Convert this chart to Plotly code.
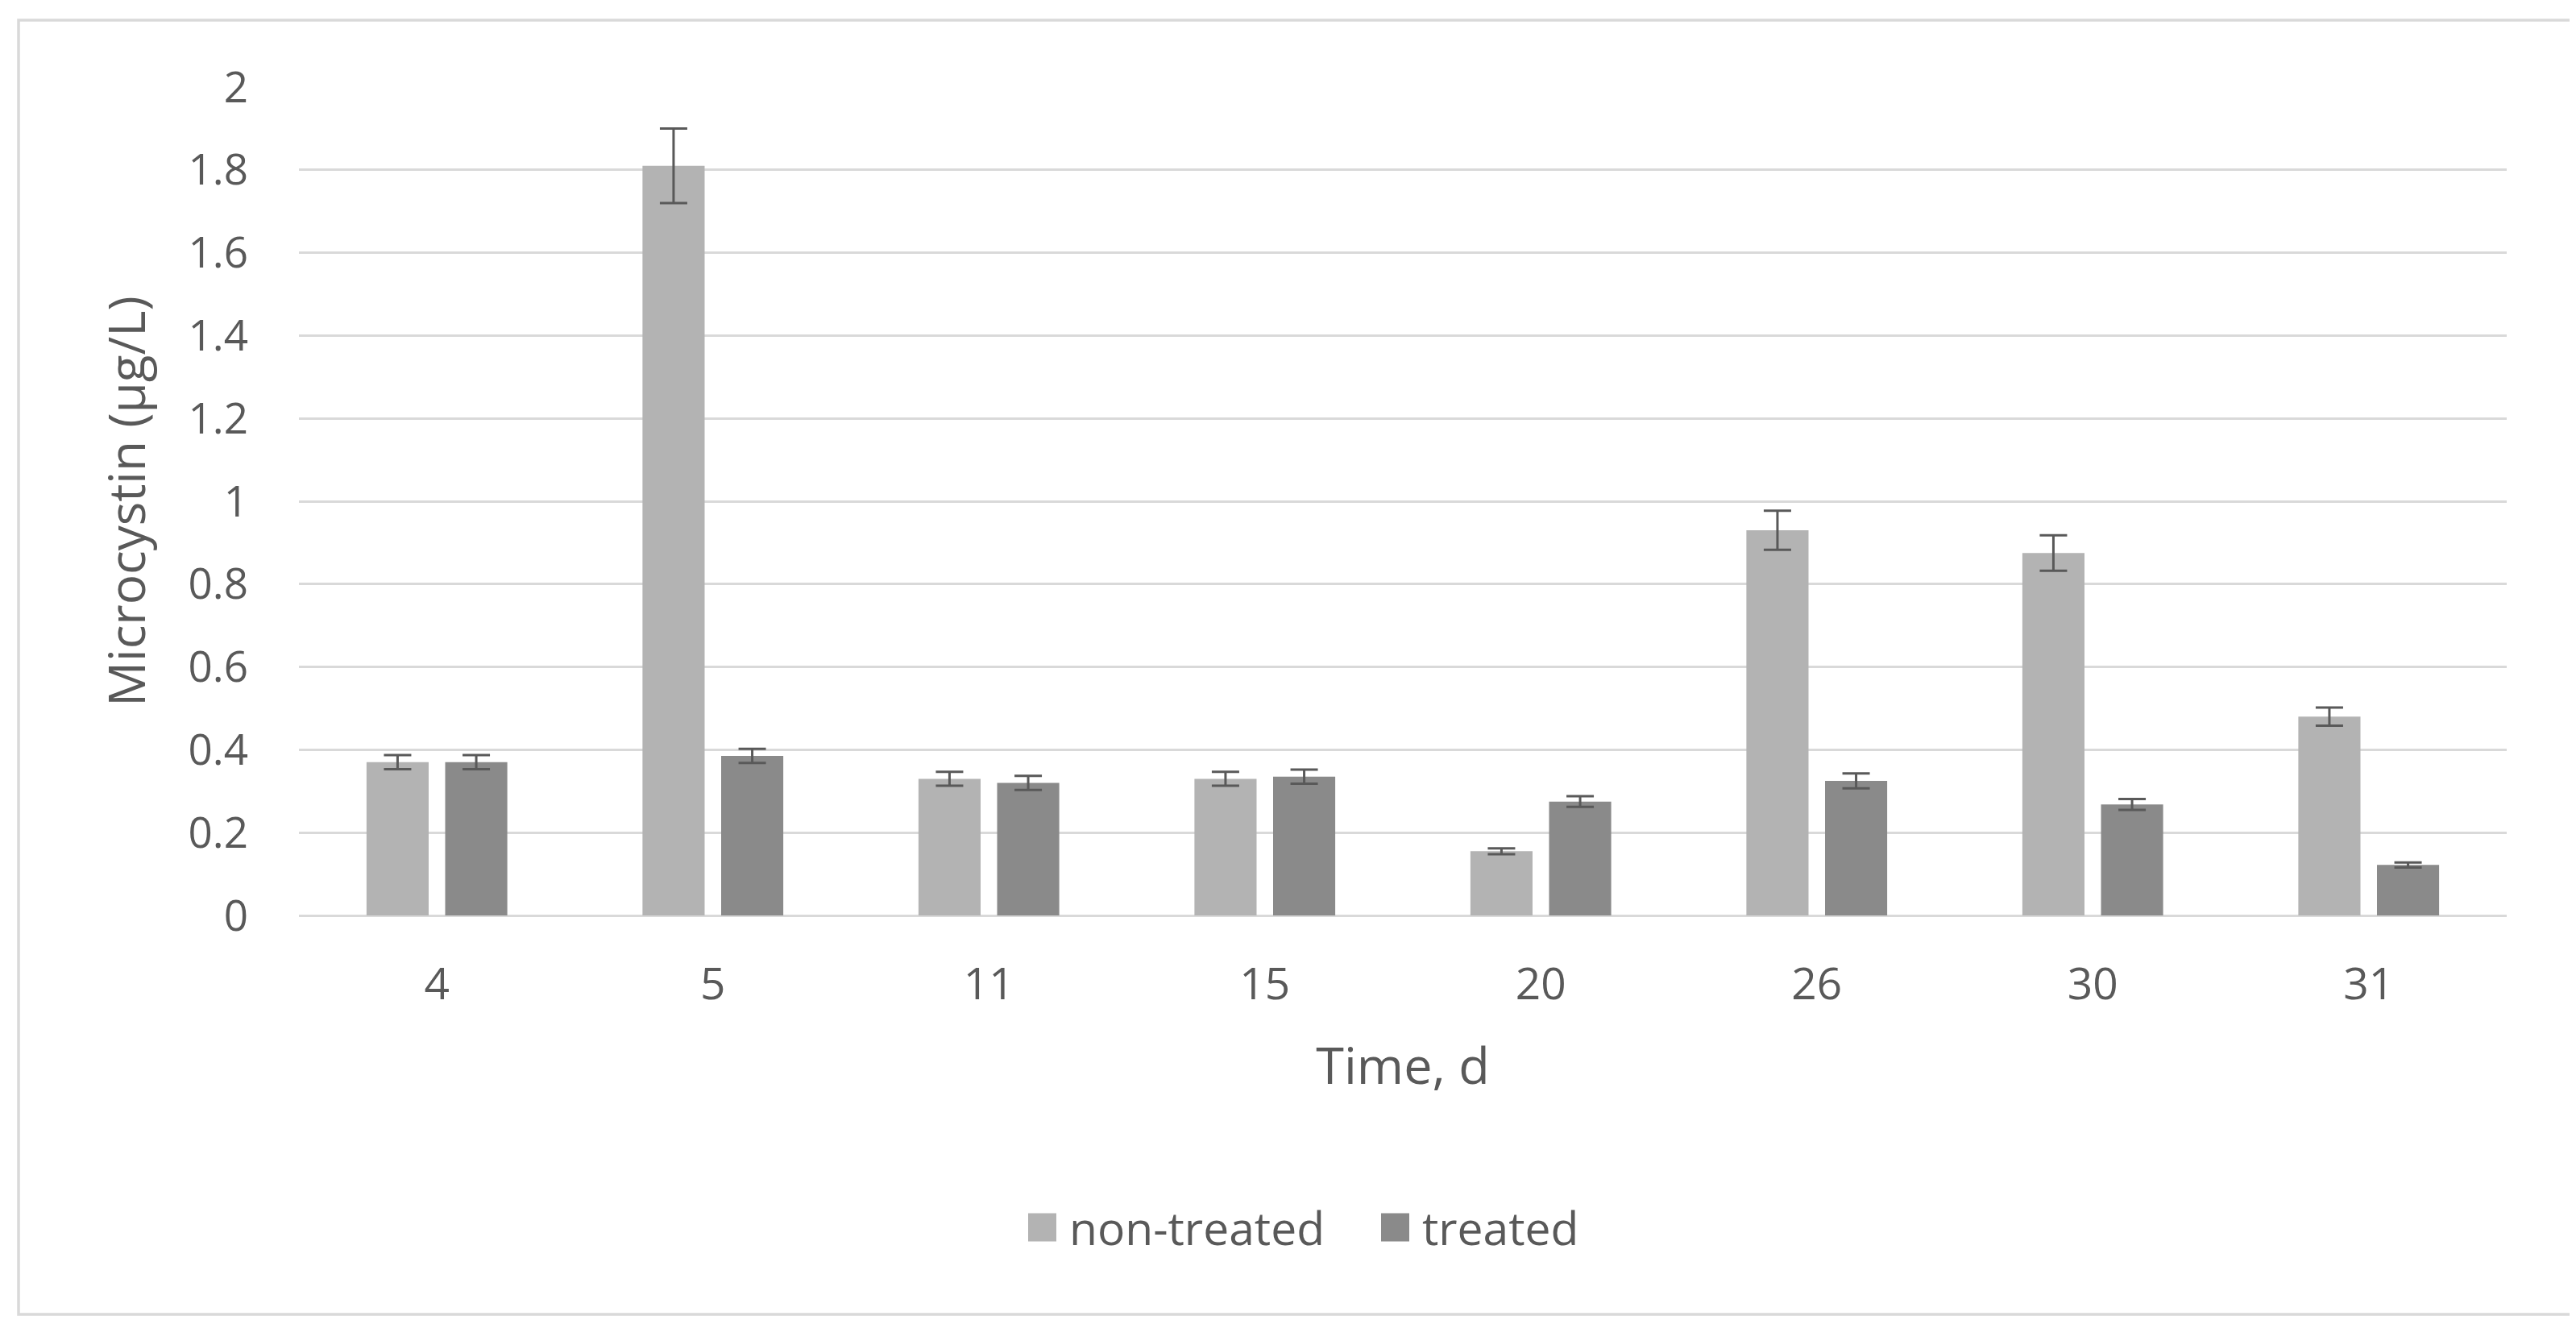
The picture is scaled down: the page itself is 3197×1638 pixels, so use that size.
import plotly.graph_objects as go

# ---- data ----
days = ["4", "5", "11", "15", "20", "26", "30", "31"]
non_treated = [0.37, 1.81, 0.33, 0.33, 0.155, 0.93, 0.875, 0.48]
non_treated_err = [0.017, 0.09, 0.017, 0.017, 0.007, 0.047, 0.043, 0.022]
treated = [0.37, 0.385, 0.32, 0.335, 0.275, 0.325, 0.268, 0.122]
treated_err = [0.017, 0.017, 0.017, 0.017, 0.013, 0.018, 0.013, 0.006]
y_tickvals = [0, 0.2, 0.4, 0.6, 0.8, 1.0, 1.2, 1.4, 1.6, 1.8, 2.0]
y_ticktext = ["0", "0.2", "0.4", "0.6", "0.8", "1", "1.2", "1.4", "1.6", "1.8", "2"]
series_names = ["non-treated", "treated"]
series_colors = ["#b3b3b3", "#8a8a8a"]

# ---- style ----
FONT = "Open Sans, Noto Sans, DejaVu Sans, sans-serif"
TEXT = "#595959"
GRID = "#d9d9d9"
ERR = "#595959"
W, H = 3197, 1638
L, R, T, B = 363, 94, 100, 510

fig = go.Figure()
for name, vals, errs, col in [
    (series_names[0], non_treated, non_treated_err, series_colors[0]),
    (series_names[1], treated, treated_err, series_colors[1]),
]:
    fig.add_trace(go.Bar(
        x=days, y=vals, name=name,
        marker=dict(color=col, line=dict(width=0)),
        error_y=dict(type="data", array=errs, visible=True,
                     color=ERR, thickness=3, width=17),
        showlegend=False,
    ))

# helpers: pixel -> paper coordinates
pw, ph = W - L - R, H - T - B
def px_x(p):
    return (p - L) / pw
def px_y(p):
    return (H - B - p) / ph

# outer chart border
fig.add_shape(type="rect", xref="paper", yref="paper",
              x0=px_x(15), x1=px_x(3184), y0=px_y(1623), y1=px_y(17),
              line=dict(color=GRID, width=3.5), fillcolor="rgba(0,0,0,0)",
              layer="below")

# legend (square swatches + labels, Excel style)
legend_y = 1515
sw = 35
legend_items = [(1268, series_names[0], series_colors[0]),
                (1706, series_names[1], series_colors[1])]
for x0, name, col in legend_items:
    fig.add_shape(type="rect", xref="paper", yref="paper",
                  x0=px_x(x0), x1=px_x(x0 + sw),
                  y0=px_y(legend_y + sw / 2), y1=px_y(legend_y - sw / 2),
                  line=dict(width=0), fillcolor=col)
    fig.add_annotation(xref="paper", yref="paper",
                       x=px_x(x0 + sw + 14), y=px_y(legend_y),
                       xanchor="left", yanchor="middle", showarrow=False,
                       text=name, font=dict(size=57, color=TEXT, family=FONT))

fig.update_layout(
    width=W, height=H,
    margin=dict(l=L, r=R, t=T, b=B, autoexpand=False),
    paper_bgcolor="white", plot_bgcolor="white",
    font=dict(family=FONT, color=TEXT, size=55),
    barmode="group", bargap=0.43, bargroupgap=0.21,
    showlegend=False,
    xaxis=dict(
        type="category",
        showgrid=False, showline=False, zeroline=False, ticks="",
        tickfont=dict(size=55, color=TEXT, family=FONT),
        ticklabelstandoff=48,
        title=dict(text="Time, d", font=dict(size=63, color=TEXT, family=FONT),
                   standoff=45),
    ),
    yaxis=dict(
        range=[0, 2],
        tickvals=y_tickvals, ticktext=y_ticktext,
        showgrid=True, gridcolor=GRID, gridwidth=3,
        zeroline=True, zerolinecolor=GRID, zerolinewidth=3,
        showline=False, ticks="",
        tickfont=dict(size=53, color=TEXT, family=FONT),
        ticklabelstandoff=62,
        title=dict(text="Microcystin (µg/L)", font=dict(size=62, color=TEXT, family=FONT),
                   standoff=32),
    ),
)

fig.write_html("out.html")
